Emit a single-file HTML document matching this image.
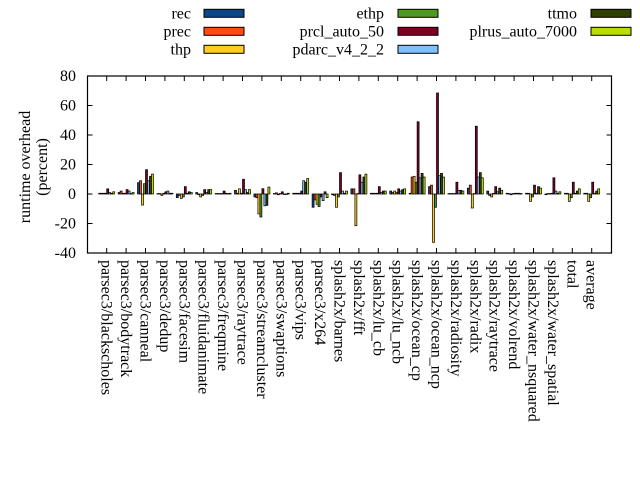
<!DOCTYPE html>
<html><head><meta charset="utf-8"><style>
html,body{margin:0;padding:0;background:#fff;width:640px;height:480px;overflow:hidden}
svg text{font-family:"Liberation Serif",serif;font-size:16px;fill:#000}
</style></head><body>
<svg id="s" width="640" height="480" xmlns="http://www.w3.org/2000/svg"></svg>
<script>
const cols=["#0b4688","#ff4a14","#ffcc22","#4d9a1e","#7a0022","#80c0ff","#2f3f00","#bbdd00"];
const names=["parsec3/blackscholes","parsec3/bodytrack","parsec3/canneal","parsec3/dedup","parsec3/facesim","parsec3/fluidanimate","parsec3/freqmine","parsec3/raytrace","parsec3/streamcluster","parsec3/swaptions","parsec3/vips","parsec3/x264","splash2x/barnes","splash2x/fft","splash2x/lu_cb","splash2x/lu_ncb","splash2x/ocean_cp","splash2x/ocean_ncp","splash2x/radiosity","splash2x/radix","splash2x/raytrace","splash2x/volrend","splash2x/water_nsquared","splash2x/water_spatial","total","average"];
const d=[
[0.5,0.5,0.5,0.5,3.5,1,0.5,1.5],
[1,2,0.5,0.5,3,2,0.3,1],
[7.7,9,-7.5,7,16.5,9,12,13.5],
[0.3,0.3,-1,0.5,1.5,2,0.5,0.5],
[-2.5,-1,-3,-2,5,0.5,1.5,1],
[1,-0.5,-2,-1,3,1,3,3],
[0.3,0.3,0.3,0.3,2,0.5,0.3,0.5],
[2.5,0.5,3.5,0.5,10,3,1,3],
[-2,-2.5,-13.5,-15.6,3.6,-8,-7.7,4.7],
[0.3,0.8,-0.5,0.3,1.5,-0.3,-0.3,0.5],
[0.5,0.5,0.5,0.5,2,9,8,10.5],
[-9,-4,-7,-8.5,-2,-4.5,1.5,-2.5],
[-0.5,-1,-9,-2,14.5,2,0.5,2],
[3.5,3.5,-21.5,0.3,13,8,11.5,13.5],
[0.5,0.5,0.5,0.5,5,1,2,2],
[2,1,2,1,3.5,2,3,3.5],
[0.5,11.5,12,8,49,11,14,11.5],
[5,6,-32.8,-9,68.5,12.4,14,11.5],
[0.3,0.3,0.3,0.3,8,2.5,2.5,2],
[4,6,-9.5,0.3,46,11.5,14.5,11],
[2,-1,-2,0.5,5,1.5,4,2.5],
[0.5,0.3,-0.5,0.3,0.5,0.5,0.5,0.3],
[0.5,0.5,-5,-2,6,0.5,5,4],
[-0.5,0.3,0.3,0.5,11,2,0.5,1.5],
[0.5,0.5,-5,-2.5,8,0.5,2,3.5],
[0.5,0.5,-5,-2.5,8,0.5,2,3.5]];
let h='';
const L=87.5,R=611.5,T=76,B=253,Y=v=>B-(v+40)*(B-T)/120;
for(let i=0;i<26;i++){const c=106.7+19.4*i;
 d[i].forEach((v,j)=>{const x=c-8+2*j,y0=Y(0),y1=Y(v);h+=`<rect x="${x}" y="${Math.min(y0,y1)}" width="2" height="${Math.max(Math.abs(y1-y0),0.5)}" fill="${cols[j]}" stroke="#000" stroke-width="0.7"/>`;});
 h+=`<line x1="${c}" y1="${T}" x2="${c}" y2="${T+5}" stroke="#000"/><line x1="${c}" y1="${B}" x2="${c}" y2="${B-5}" stroke="#000"/>`;
 h+=`<text transform="translate(${c-5},260) rotate(90)">${names[i]}</text>`;}
for(let v=-40;v<=80;v+=20){const y=Y(v);h+=`<line x1="${L}" y1="${y}" x2="${L+5}" y2="${y}" stroke="#000"/><line x1="${R}" y1="${y}" x2="${R-5}" y2="${y}" stroke="#000"/><text x="76" y="${y+5}" text-anchor="end">${v}</text>`;}
h+=`<rect x="${L}" y="${T}" width="${R-L}" height="${B-T}" fill="none" stroke="#000" stroke-width="1.2"/>`;
h+=`<text transform="translate(30,167) rotate(-90)" text-anchor="middle">runtime overhead</text><text transform="translate(47,167) rotate(-90)" text-anchor="middle">(percent)</text>`;
const leg=[["rec",191,204,0,0],["prec",191,204,1,1],["thp",191,204,2,2],["ethp",384,398,3,0],["prcl_auto_50",384,398,4,1],["pdarc_v4_2_2",384,398,5,2],["ttmo",577,591,6,0],["plrus_auto_7000",577,591,7,1]];
const rowY=[9.3,27.3,45.3];
leg.forEach(l=>{const y=rowY[l[4]];
 h+=`<text x="${l[1]}" y="${y+9}" text-anchor="end">${l[0]}</text><rect x="${l[2]}" y="${y}" width="40" height="8" fill="${cols[l[3]]}" stroke="#000" stroke-width="1"/>`;});
document.getElementById('s').innerHTML=h;
</script>
</body></html>
